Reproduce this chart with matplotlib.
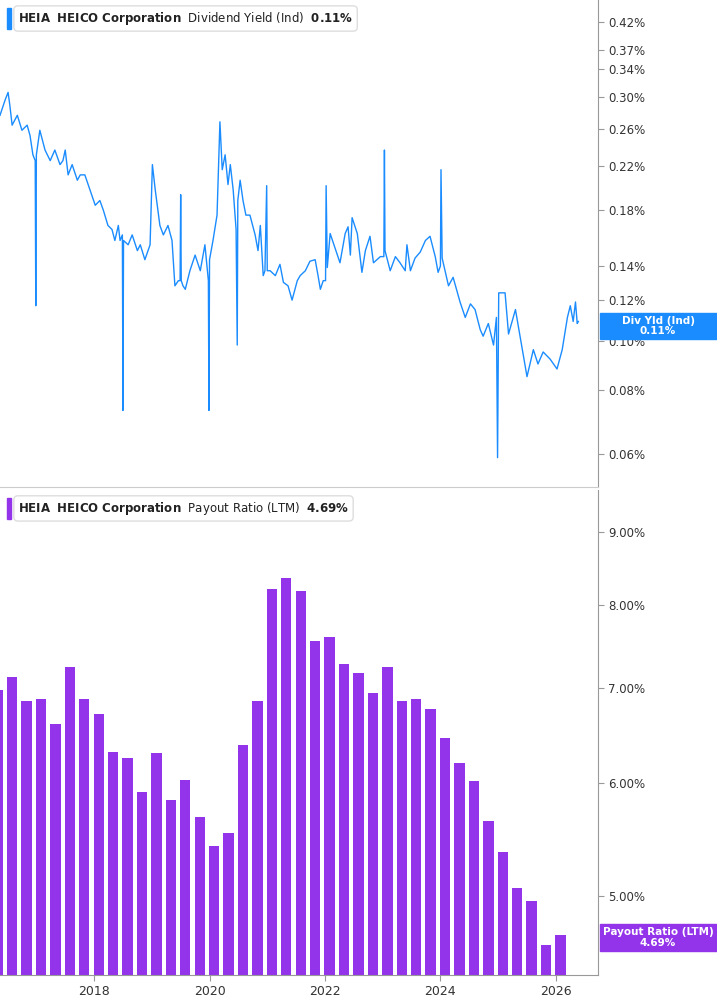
import numpy as np
import matplotlib.pyplot as plt
from matplotlib.ticker import FixedLocator, NullLocator

# dividend yield (%), decimal year offsets from 2000
yld_years = [16.37,16.46,16.51,16.54,16.58,16.67,16.75,16.84,16.89,16.94,16.98,16.99,17.00,17.06,17.15,17.24,17.32,17.41,17.46,17.50,
             17.55,17.62,17.71,17.76,17.84,17.93,18.02,18.10,18.16,18.24,18.31,18.36,18.42,18.45,18.49,18.50,18.51,18.59,18.66,18.75,
             18.80,18.88,18.97,19.01,19.06,19.14,19.20,19.28,19.35,19.40,19.46,19.49,19.50,19.51,19.54,19.58,19.66,19.75,19.84,19.92,
             19.98,19.99,20.00,20.06,20.13,20.18,20.22,20.27,20.32,20.36,20.41,20.46,20.48,20.49,20.53,20.58,20.63,20.70,20.79,20.84,
             20.88,20.93,20.96,20.99,21.00,21.05,21.14,21.22,21.28,21.36,21.43,21.48,21.52,21.57,21.66,21.74,21.83,21.88,21.92,21.97,
             22.01,22.02,22.04,22.09,22.26,22.35,22.40,22.44,22.47,22.56,22.64,22.70,22.78,22.84,22.96,23.02,23.03,23.04,23.13,23.22,
             23.30,23.39,23.42,23.48,23.56,23.65,23.74,23.82,23.91,23.96,24.00,24.01,24.03,24.14,24.22,24.34,24.43,24.52,24.60,24.69,
             24.74,24.83,24.92,24.97,24.99,25.01,25.04,25.12,25.18,25.30,25.38,25.44,25.50,25.61,25.69,25.78,25.90,26.02,26.11,26.20,
             26.25,26.30,26.34,26.37,26.39]
yld_vals = [.276,.296,.306,.289,.264,.276,.258,.264,.252,.231,.225,.117,.231,.258,.236,.225,.236,.221,.225,.236,
            .211,.221,.206,.211,.211,.197,.184,.188,.180,.168,.165,.157,.168,.157,.161,.073,.157,.154,.161,.150,
            .154,.144,.154,.221,.197,.168,.161,.168,.157,.128,.131,.131,.193,.131,.128,.126,.137,.147,.137,.154,
            .131,.073,.144,.157,.176,.268,.216,.231,.202,.221,.197,.165,.098,.188,.206,.188,.176,.176,.161,.150,
            .168,.134,.137,.201,.137,.137,.134,.141,.130,.128,.120,.126,.131,.134,.137,.143,.144,.134,.126,.131,
            .131,.201,.139,.162,.142,.162,.167,.147,.174,.162,.136,.150,.160,.142,.146,.146,.236,.150,.137,.146,
            .142,.137,.154,.137,.145,.149,.157,.160,.146,.136,.140,.216,.145,.128,.133,.119,.111,.118,.115,.105,
            .102,.108,.098,.111,.059,.124,.124,.124,.103,.115,.102,.093,.085,.096,.090,.095,.092,.088,.096,.111,
            .117,.109,.119,.108,.109]

# payout ratio (LTM, %), quarterly
payout_vals = [6.97,7.12,6.85,6.87,6.60,7.24,6.87,6.71,6.31,6.25,5.91,6.30,5.84,6.03,5.68,5.42,5.53,6.38,6.85,8.21,
               8.36,8.18,7.55,7.59,7.27,7.17,6.94,7.23,6.85,6.87,6.76,6.45,6.20,6.02,5.64,5.37,5.06,4.96,4.62,4.69]
payout_last_year = 2026.08

yld_ticks = [0.06,0.08,0.10,0.12,0.14,0.18,0.22,0.26,0.30,0.34,0.37,0.42]
pay_ticks = [5,6,7,8,9]
x_ticks = [2018,2020,2022,2024,2026]

BLUE = '#1a8cff'
PURPLE = '#9333ea'
GREY = '#999999'

W, H = 717, 1005
fig = plt.figure(figsize=(W/100, H/100), dpi=100)
plot_w = 598/W
ax1 = fig.add_axes([0, 1-487/H, plot_w, 487/H])
ax2 = fig.add_axes([0, 1-975/H, plot_w, 485/H])

xmin, xmax = 2016.37, 2026.73
yrs = np.array(yld_years) + 2000
ax1.plot(yrs, yld_vals, color=BLUE, lw=1.0)
ax1.set_yscale('log')
ax1.set_ylim(0.0517, 0.464)

n = len(payout_vals)
pay_x = payout_last_year - 0.25*np.arange(n)[::-1]
ax2.bar(pay_x, payout_vals, width=0.18, color=PURPLE)
ax2.set_yscale('log')
ax2.set_ylim(4.40, 9.63)

for ax, ticks in [(ax1, yld_ticks), (ax2, pay_ticks)]:
    ax.set_xlim(xmin, xmax)
    ax.yaxis.tick_right()
    ax.yaxis.set_major_locator(FixedLocator(ticks))
    ax.yaxis.set_minor_locator(NullLocator())
    ax.set_yticklabels(['{:.2f}%'.format(t) for t in ticks])
    ax.tick_params(axis='y', labelsize=8.5, colors='#333333', length=4, color=GREY)
    for s in ['top', 'left']:
        ax.spines[s].set_visible(False)
    ax.spines['right'].set_color(GREY)
    ax.spines['bottom'].set_color('#cccccc')
    ax.set_xticks(x_ticks)

ax1.tick_params(axis='x', labelbottom=False, length=0)
ax2.tick_params(axis='x', labelsize=9, colors='#333333', length=4, color=GREY)
ax2.spines['bottom'].set_color(GREY)

# legend boxes
def legend(ax, color, label, value, y):
    s = r'$\bf{HEIA\ \ HEICO\ Corporation}$  ' + label + '  ' + r'$\bf{' + value + '}$'
    ax.text(0.03, y, s, transform=ax.transAxes, fontsize=8.5, color='#222222', va='center',
            bbox=dict(boxstyle='round,pad=0.35', fc='white', ec='#dddddd'))
    ax.add_patch(plt.Rectangle((0.012, y-0.022), 0.006, 0.044, transform=ax.transAxes,
                               color=color, clip_on=False))

legend(ax1, BLUE, 'Dividend Yield (Ind)', r'0.11\%', 0.962)
legend(ax2, PURPLE, 'Payout Ratio (LTM)', r'4.69\%', 0.962)

# last value tags
def tag(y0, y1, color, txt):
    fig.patches.append(plt.Rectangle((600/W, 1-y1/H), 117/W, (y1-y0)/H, color=color,
                                     transform=fig.transFigure, figure=fig))
    fig.text(658/W, 1-(y0+y1)/2/H, txt, color='white', fontsize=7.5, fontweight='bold',
             ha='center', va='center', linespacing=1.05)

tag(313, 339, BLUE, 'Div Yld (Ind)\n0.11%')
tag(924, 951, PURPLE, 'Payout Ratio (LTM)\n4.69%')

fig.savefig('out.png', dpi=100)
